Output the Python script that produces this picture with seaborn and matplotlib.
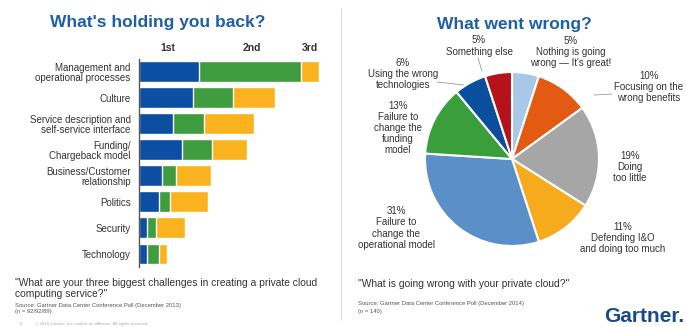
import matplotlib
matplotlib.use("Agg")
import matplotlib.pyplot as plt
import seaborn as sns
import pandas as pd
import numpy as np

sns.set_theme(style="white")
plt.rcParams['font.family'] = ['Liberation Sans', 'DejaVu Sans']

# ---------------- data ----------------
challenges = ["Management and\noperational processes", "Culture",
              "Service description and\nself-service interface", "Funding/\nChargeback model",
              "Business/Customer\nrelationship", "Politics", "Security", "Technology"]
first = [60, 54, 34, 43, 23, 20, 8, 8]
second = [102, 40, 31, 30, 14, 11, 9, 12]
third = [18, 42, 50, 35, 35, 38, 29, 8]
rank_labels = ["1st", "2nd", "3rd"]

wrong_labels = ["5%\nNothing is going\nwrong \u2014 It's great!",
                "10%\nFocusing on the\nwrong benefits",
                "19%\nDoing\ntoo little",
                "11%\nDefending I&O\nand doing too much",
                "31%\nFailure to\nchange the\noperational model",
                "13%\nFailure to\nchange the\nfunding\nmodel",
                "6%\nUsing the wrong\ntechnologies",
                "5%\nSomething else"]
wrong_pct = [5, 10, 19, 11, 31, 13, 6, 5]

W, H = 686, 327
fig = plt.figure(figsize=(W / 100, H / 100), dpi=100)
fig.patch.set_facecolor("white")

def fx(px):
    return px / W

def fy(py):
    return 1 - py / H

title_col = "#1f5ea8"
txt_col = "#333333"

# ---------------- left: stacked bars ----------------
ax = fig.add_axes([fx(139), fy(267), fx(330 - 139), (267 - 58.5) / H])
df = pd.DataFrame({"cat": challenges, "first": first, "second": second, "third": third})
df["c1"] = df["first"]
df["c2"] = df["first"] + df["second"]
df["c3"] = df["c2"] + df["third"]
blue, green, orange = "#0b4ea2", "#3f9c3f", "#fbb21f"
sns.barplot(data=df, x="c3", y="cat", color=orange, orient="h", width=0.8,
            saturation=1, ax=ax)
sns.barplot(data=df, x="c2", y="cat", color=green, orient="h", width=0.8,
            saturation=1, ax=ax)
sns.barplot(data=df, x="c1", y="cat", color=blue, orient="h", width=0.8,
            saturation=1, ax=ax)
ax.set_xlim(0, 191)
ax.set_ylim(7.5, -0.5)
ax.set_xlabel("")
ax.set_ylabel("")
ax.set_xticks([])
for s in ["top", "right", "bottom"]:
    ax.spines[s].set_visible(False)
ax.spines["left"].set_color("#555555")
ax.spines["left"].set_linewidth(1.0)
ax.tick_params(axis="y", length=0, pad=6)
for lab in ax.get_yticklabels():
    lab.set_fontsize(7)
    lab.set_color(txt_col)
    lab.set_linespacing(1.0)
    lab.set_horizontalalignment("right")
for x, t in zip([29, 113, 171], rank_labels):
    ax.text(x, -0.72, t, ha="center", va="bottom", fontsize=7.5,
            fontweight="bold", color="#333333")

fig.text(fx(158), fy(23), "What's holding you back?", ha="center", va="center",
         fontsize=12.5, fontweight="bold", color=title_col)
fig.text(fx(15), fy(283), "\"What are your three biggest challenges in creating a private cloud",
         ha="left", va="center", fontsize=7.4, color=txt_col)
fig.text(fx(15), fy(294), "computing service?\"", ha="left", va="center",
         fontsize=7.4, color=txt_col)
fig.text(fx(15), fy(305), "Source: Gartner Data Center Conference Poll (December 2013)",
         ha="left", va="center", fontsize=4.2, color="#555555")
fig.text(fx(15), fy(312), "(n = 92/92/89)", ha="left", va="center",
         fontsize=4.2, color="#555555")
fig.text(fx(20), fy(324), "8", ha="left", va="center", fontsize=3.2, color="#aaaaaa")
fig.text(fx(35), fy(324), "\u00a9 2015 Gartner, Inc. and/or its affiliates. All rights reserved.",
         ha="left", va="center", fontsize=3.2, color="#aaaaaa")

# divider
fig.add_artist(plt.Line2D([fx(341), fx(341)], [fy(8), fy(320)], color="#dddddd", lw=0.8))

# ---------------- right: pie ----------------
pie_colors = ["#a9c8e8", "#e35a12", "#a6a6a6", "#f5ab1c",
              "#5b8fc7", "#3a9e3a", "#0a4f9e", "#b5121b"]
R = 87
cx, cy = 512, 159
pax = fig.add_axes([fx(cx - R), fy(cy + R), 2 * R / W, 2 * R / H])
pax.pie(wrong_pct, colors=pie_colors, startangle=90, counterclock=False,
        wedgeprops=dict(edgecolor="white", linewidth=1.5), radius=1)
pax.set_xlim(-1, 1)
pax.set_ylim(-1, 1)
pax.set_aspect("auto")
pax.axis("off")

label_pos = [(571, 52), (649, 87), (630, 167), (623, 238),
             (396, 228), (398, 128), (403, 74), (479, 46)]
for (x, y), t in zip(label_pos, wrong_labels):
    fig.text(fx(x), fy(y), t, ha="center", va="center", fontsize=7,
             color=txt_col, linespacing=1.15)

# leader lines
for (x0, y0), (x1, y1) in [((437, 82), (464, 85)), ((478, 58), (482, 71)),
                           ((612, 94), (594, 95))]:
    fig.add_artist(plt.Line2D([fx(x0), fx(x1)], [fy(y0), fy(y1)],
                              color="#999999", lw=0.6))

fig.text(fx(514), fy(24), "What went wrong?", ha="center", va="center",
         fontsize=12.5, fontweight="bold", color=title_col)
fig.text(fx(358), fy(284), "\"What is going wrong with your private cloud?\"",
         ha="left", va="center", fontsize=7.4, color=txt_col)
fig.text(fx(358), fy(304), "Source: Gartner Data Center Conference Poll (December 2014)",
         ha="left", va="center", fontsize=4.2, color="#555555")
fig.text(fx(358), fy(311), "(n = 140)", ha="left", va="center",
         fontsize=4.2, color="#555555")
fig.text(fx(684), fy(317), "Gartner.", ha="right", va="center", fontsize=15,
         fontweight="bold", color="#1b4a8c")

fig.savefig("out.png", dpi=100, facecolor="white")
